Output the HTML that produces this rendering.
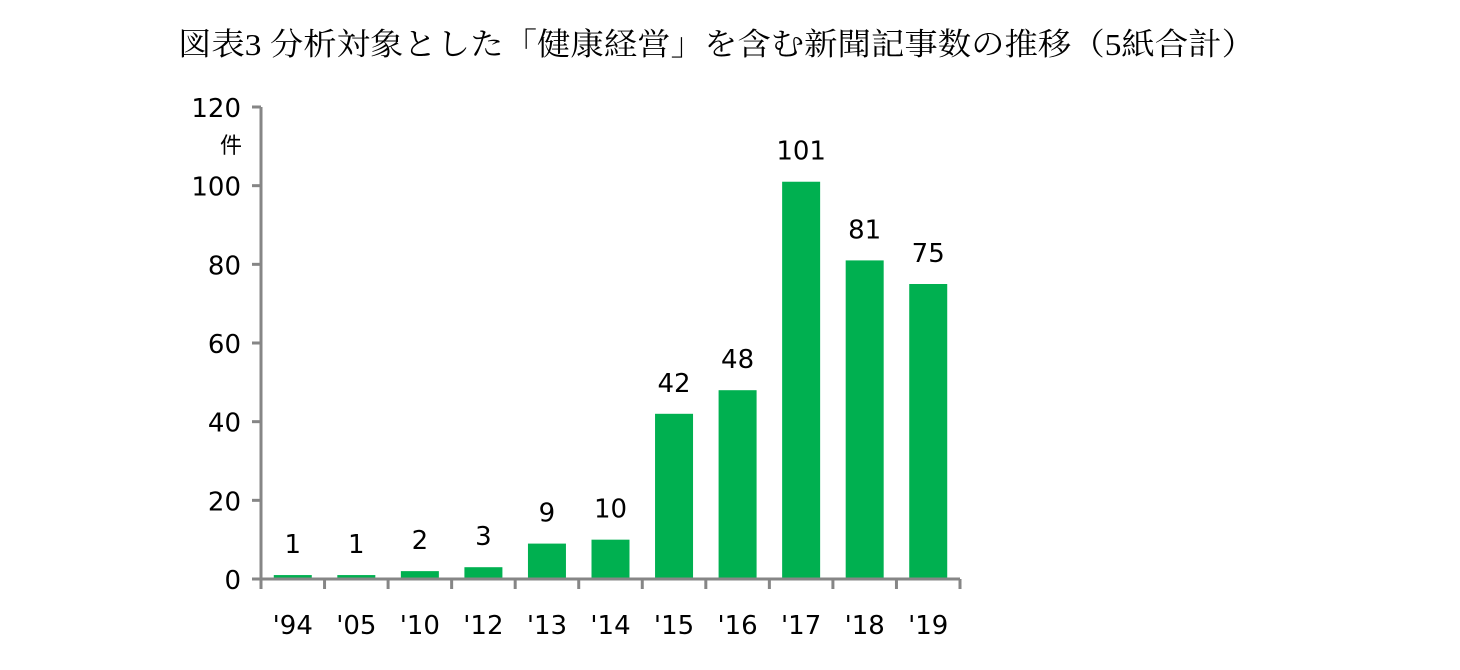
<!DOCTYPE html>
<html><head><meta charset="utf-8"><style>
body{margin:0;background:#fff;width:1460px;height:665px;overflow:hidden}
svg text{font-family:"DejaVu Sans","Liberation Sans","Noto Sans CJK JP",sans-serif}
</style></head><body>
<svg id="c" width="1460" height="665">
<text x="178" y="55" font-size="31" textLength="1077" lengthAdjust="spacingAndGlyphs" style="font-family:'Liberation Serif','Noto Serif CJK SC',serif">図表3 分析対象とした「健康経営」を含む新聞記事数の推移（5紙合計）</text>
<text x="220" y="153" font-size="22" style="font-family:'Noto Sans CJK JP',sans-serif">件</text>
</svg>
<script>
const categories=["'94","'05","'10","'12","'13","'14","'15","'16","'17","'18","'19"];
const values=[1,1,2,3,9,10,42,48,101,81,75];
const yTicks=[0,20,40,60,80,100,120];
const svg=document.getElementById('c');
const NS='http://www.w3.org/2000/svg';
const x0=261,x1=960,y0=579,yTop=107,yMax=120;
const band=(x1-x0)/categories.length,bw=38;
const y=v=>y0-(v/yMax)*(y0-yTop);
const xc=i=>x0+band*(i+0.5);
function mk(t,a){const e=document.createElementNS(NS,t);for(const k in a)e.setAttribute(k,a[k]);svg.appendChild(e);return e;}
values.forEach((v,i)=>{
const r=mk('rect',{x:xc(i)-bw/2,y:y(v),width:bw,height:y0-y(v),fill:'#00b050'});


const t=mk('text',{x:xc(i),y:y(v)-22,'font-size':26,'text-anchor':'middle',fill:'#000'});
t.textContent=v;


const c=mk('text',{x:xc(i),y:634,'font-size':26,'text-anchor':'middle',fill:'#000'});
c.textContent=categories[i];


});
const ya=mk('line',{x1:x0,y1:yTop,x2:x0,y2:y0,stroke:'#868686','stroke-width':3});


const xa=mk('line',{x1:x0-9,y1:y0,x2:x1,y2:y0,stroke:'#868686','stroke-width':3});


yTicks.forEach(v=>{
mk('line',{x1:x0-9,y1:y(v),x2:x0,y2:y(v),stroke:'#868686','stroke-width':3});
const t=mk('text',{x:241,y:y(v)+10,'font-size':26,'text-anchor':'end',fill:'#000'});
t.textContent=v;


});
for(let i=0;i<=categories.length;i++){mk('line',{x1:x0+band*i,y1:y0,x2:x0+band*i,y2:y0+10,stroke:'#868686','stroke-width':3});}
</script>
</body></html>
